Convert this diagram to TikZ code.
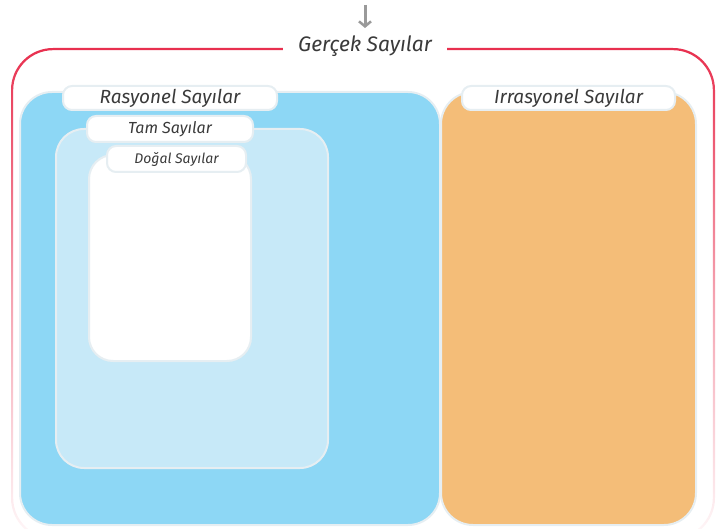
\documentclass[tikz,border=0pt]{standalone}
\usepackage{fontspec}
\setmainfont{Fira Sans}
\usetikzlibrary{arrows.meta}
\definecolor{redB}{HTML}{E8304F}
\definecolor{blueA}{HTML}{8DD7F5}
\definecolor{blueB}{HTML}{C7E9F8}
\definecolor{orangeA}{HTML}{F4BD78}
\definecolor{edgeC}{HTML}{E6EEF2}
\definecolor{txtC}{HTML}{3A3A3A}
\definecolor{arrC}{HTML}{9A9A9A}
\tikzset{
  region/.style={rectangle, draw=edgeC, line width=2pt, rounded corners=32pt, inner sep=0pt},
  tag/.style={rectangle, draw=edgeC, fill=white, line width=2pt, rounded corners=9pt, inner sep=0pt, text=txtC, font=\itshape},
}
\begin{document}
\begin{tikzpicture}[x=1pt,y=-1pt]
\useasboundingbox (0,0) rectangle (725,529);
\begin{scope}
\clip (0,0) rectangle (725,529);
% outer gradient border
\shade[top color=redB, bottom color=redB!3, middle color=redB!45, even odd rule]
  [rounded corners=42pt] (11,48) rectangle (715,540)
  [rounded corners=40pt] (13.2,50.2) rectangle (712.8,537.8);
\end{scope}
\fill[white] (283,40) rectangle (447,58);
\node[text=txtC, font=\itshape\fontsize{21}{24}\selectfont] (title) at (365,46) {Gerçek Sayılar};
\coordinate (arrtop) at (365,5);
\coordinate (arrbot) at (365,28);
\draw[arrC, line width=3pt, -{Straight Barb[length=5pt,width=12pt,line width=2.5pt]}] (arrtop) -- (arrbot);

\node[region, fill=blueA, minimum width=420pt, minimum height=433pt] (rasyonel) at (230,308.5) {};
\node[region, fill=blueB, minimum width=272pt, minimum height=339pt, rounded corners=28pt] (tam) at (192,298.5) {};
\node[region, fill=white, minimum width=162pt, minimum height=206pt, rounded corners=24pt] (dogal) at (170,258) {};
\node[region, fill=orangeA, minimum width=255pt, minimum height=433pt] (irrasyonel) at (568.5,308.5) {};

\node[tag, minimum width=214pt, minimum height=24pt, font=\itshape\fontsize{19}{22}\selectfont] (tR) at (170,98) {Rasyonel Sayılar};
\node[tag, minimum width=166pt, minimum height=26pt, font=\itshape\fontsize{16}{19}\selectfont] (tT) at (170,129) {Tam Sayılar};
\node[tag, minimum width=139pt, minimum height=26pt, font=\itshape\fontsize{14}{17}\selectfont] (tD) at (176.5,159) {Doğal Sayılar};
\node[tag, minimum width=213pt, minimum height=24pt, font=\itshape\fontsize{19}{22}\selectfont] (tI) at (568.5,98) {Irrasyonel Sayılar};
\end{tikzpicture}
\end{document}
